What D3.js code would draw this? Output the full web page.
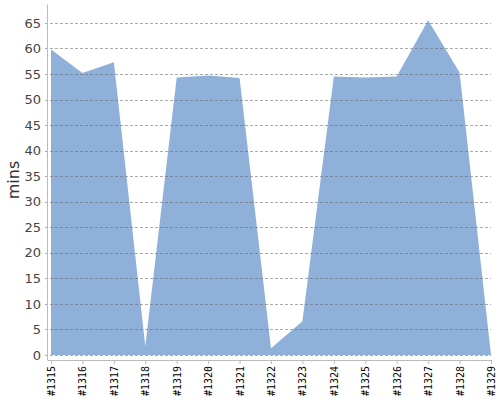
<!DOCTYPE html>
<html>
<head>
<meta charset="utf-8">
<script src="https://cdn.jsdelivr.net/npm/d3@7"></script>
<style>
  body { margin: 0; background: #fff; }
  svg { display: block; }
</style>
</head>
<body>
<script>
// builds
var builds = ["#1315", "#1316", "#1317", "#1318", "#1319", "#1320", "#1321", "#1322",
              "#1323", "#1324", "#1325", "#1326", "#1327", "#1328", "#1329"];
// duration in minutes
var mins = [59.8, 55.2, 57.3, 1.7, 54.3, 54.7, 54.2, 1.3,
            6.6, 54.5, 54.3, 54.5, 65.5, 55.3, 0];
var yTicks = [0, 5, 10, 15, 20, 25, 30, 35, 40, 45, 50, 55, 60, 65];

var W = 500, H = 400;
var axisX = 48, plotTop = 4.5, zeroY = 355, baseY = 360;

var svg = d3.select("body").append("svg")
    .attr("width", W)
    .attr("height", H);

var x = d3.scalePoint()
    .domain(builds)
    .range([51, 491]);

var y = d3.scaleLinear()
    .domain([0, 68.6])
    .range([zeroY, plotTop]);

var data = builds.map(function (b, i) { return {build: b, value: mins[i]}; });

// area
var area = d3.area()
    .x(function (d) { return x(d.build); })
    .y0(y(0))
    .y1(function (d) { return y(d.value); });

svg.append("path")
    .datum(data)
    .attr("fill", "#8eb0d9")
    .attr("d", area);

// grid lines (on top of the area)
svg.append("g")
    .selectAll("line")
    .data(yTicks)
    .enter().append("line")
    .attr("x1", axisX - 3)
    .attr("x2", 491)
    .attr("y1", function (d) { return Math.round(y(d)) + 0.5; })
    .attr("y2", function (d) { return Math.round(y(d)) + 0.5; })
    .attr("stroke", "#666")
    .attr("stroke-opacity", 0.55)
    .attr("stroke-dasharray", "3,2");

// y axis line
svg.append("line")
    .attr("x1", axisX - 0.5).attr("x2", axisX - 0.5)
    .attr("y1", plotTop).attr("y2", baseY)
    .attr("stroke", "#bbb");

// y tick labels
svg.append("g")
    .selectAll("text")
    .data(yTicks)
    .enter().append("text")
    .attr("x", axisX - 7)
    .attr("y", function (d) { return y(d); })
    .attr("dy", "0.36em")
    .attr("text-anchor", "end")
    .attr("font-family", "DejaVu Sans")
    .attr("font-size", 13)
    .attr("fill", "#444")
    .text(function (d) { return d; });

// x axis
var xAxis = svg.append("g")
    .attr("transform", "translate(0," + baseY + ")")
    .call(d3.axisBottom(x).tickSize(4).tickSizeOuter(0));

xAxis.select(".domain")
    .attr("d", "M" + (axisX - 0.5) + ",0.5H491.5")
    .attr("stroke", "#bbb");
xAxis.selectAll(".tick line").attr("stroke", "#bbb");
xAxis.selectAll(".tick text")
    .attr("font-family", "DejaVu Sans Mono")
    .attr("font-size", 10)
    .attr("fill", "#000")
    .attr("transform", "rotate(-90)")
    .attr("text-anchor", "end")
    .attr("x", -6)
    .attr("y", 0)
    .attr("dy", "0.35em");

// y label
svg.append("text")
    .attr("transform", "translate(19,180) rotate(-90)")
    .attr("text-anchor", "middle")
    .attr("font-family", "DejaVu Sans")
    .attr("font-size", 16)
    .attr("fill", "#333")
    .text("mins");
</script>
</body>
</html>
